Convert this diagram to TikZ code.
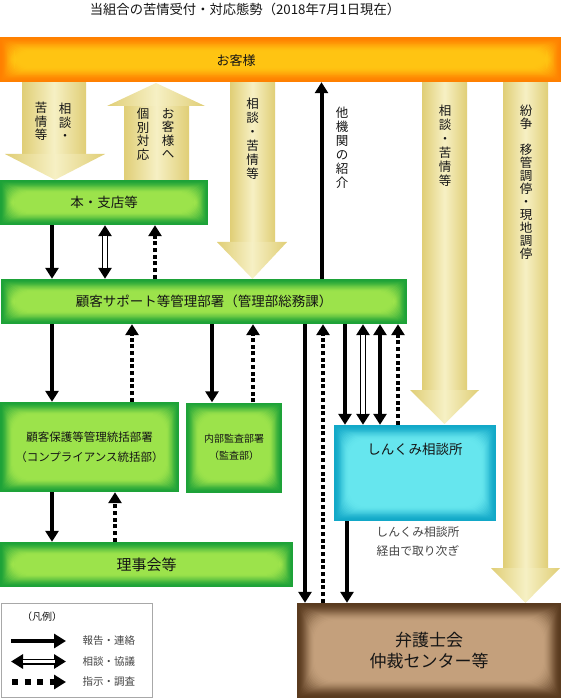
\documentclass[tikz,border=0pt]{standalone}
\usepackage{fontspec}
\setmainfont{Noto Sans CJK JP}
\usetikzlibrary{arrows.meta}
\definecolor{gout}{HTML}{1DA238}
\definecolor{gin}{HTML}{9CE34B}
\definecolor{oout}{HTML}{FF8000}
\definecolor{oin}{HTML}{FFC412}
\definecolor{cout}{HTML}{12A8C8}
\definecolor{cin}{HTML}{66E6EE}
\definecolor{bout}{HTML}{5A3B1F}
\definecolor{bin}{HTML}{C4A07C}
\definecolor{kout}{HTML}{E0CE76}
\definecolor{kin}{HTML}{F6F0C4}
\definecolor{txt}{HTML}{151515}
\definecolor{legtxt}{HTML}{444444}
\definecolor{legline}{HTML}{A8A8A8}
\pgfdeclarehorizontalshading{khaki}{100bp}{color(0bp)=(kout); color(25bp)=(kout); color(50bp)=(kin); color(75bp)=(kout); color(100bp)=(kout)}
\tikzset{
  glow/.style n args={4}{path picture={
    \foreach \i in {0,...,#3}{
      \pgfmathsetmacro\tt{\i/#3}
      \pgfmathtruncatemacro\pc{100*(3*\tt*\tt-2*\tt*\tt*\tt)}
      \pgfmathsetmacro\rr{\i*1.1}
      \fill[#2!\pc!#1, rounded corners=\rr pt]
        ([shift={({\i*#4},{-\i*#4})}]path picture bounding box.north west) rectangle
        ([shift={({-\i*#4},{\i*#4})}]path picture bounding box.south east);
    }}},
  boxbase/.style={rectangle, inner sep=0pt, text=txt, align=center},
  greenbox/.style={boxbase, glow={gout}{gin}{16}{0.8pt}},
  tipA/.tip={Triangle[width=13pt,length=11pt]},
  rep/.style={line width=4pt, -tipA},
  repboth/.style={line width=4pt, tipA-tipA},
  ins/.style={line width=4pt, dash pattern=on 4pt off 2.7pt, -tipA},
  vt/.style={inner sep=0pt, align=center, text=txt, font=\fontsize{12.5}{13.5}\selectfont, anchor=north},
  legarrow/.tip={Triangle[width=14pt,length=12pt]},
}
\newcommand\DblArrow[3]{%
  \draw[line width=6pt, tipA-tipA] (#1) -- (#2);
  \draw[white, line width=#3, shorten <=10.5pt, shorten >=10.5pt] (#1) -- (#2);}
\begin{document}
\begin{tikzpicture}[x=1pt,y=-1pt]
\useasboundingbox (0,0) rectangle (561,700);
\fill[white] (0,0) rectangle (561,700);

% title
\node[text=txt, font=\fontsize{13.3}{15}\selectfont] (title) at (245,9) {当組合の苦情受付・対応態勢（2018年7月1日現在）};

% boxes
\node[boxbase, glow={oout}{oin}{16}{0.9pt}, minimum width=561pt, minimum height=45pt,
      label={[text=txt, font=\fontsize{13}{15}\selectfont, xshift=-44.5pt, yshift=-1.5pt]center:お客様}] (cust) at (280.5,59.5) {};
\node[greenbox, minimum width=208pt, minimum height=45pt, font=\fontsize{13.5}{16}\selectfont] (sup) at (104,202.5) {本・支店等};
\node[greenbox, minimum width=406pt, minimum height=45pt, font=\fontsize{13.5}{16}\selectfont] (hq) at (204,301.5) {顧客サポート等管理部署（管理部総務課）};
\node[greenbox, minimum width=179pt, minimum height=90pt, font=\fontsize{11.5}{20}\selectfont] (comp) at (89.5,447) {顧客保護等管理統括部署\\（コンプライアンス統括部）};
\node[greenbox, minimum width=96pt, minimum height=90pt, font=\fontsize{10}{17}\selectfont] (audit) at (234,447.5) {内部監査部署\\（監査部）};
\node[greenbox, minimum width=293pt, minimum height=45pt, font=\fontsize{15}{17}\selectfont] (board) at (146.5,564.5) {理事会等};
\node[boxbase, glow={cout}{cin}{16}{0.9pt}, minimum width=162pt, minimum height=96pt,
      label={[text=txt, font=\fontsize{13.5}{16}\selectfont, anchor=center, yshift=-25pt]north:しんくみ相談所}] (shin) at (415,473) {};
\node[boxbase, glow={bout}{bin}{18}{1pt}, minimum width=264pt, minimum height=95pt, font=\fontsize{17}{21}\selectfont] (bar) at (429,650.5) {弁護士会\\仲裁センター等};

\node[text=legtxt, align=center, font=\fontsize{11.8}{19}\selectfont] (cap) at (418,541.5) {しんくみ相談所\\経由で取り次ぎ};

% big khaki arrows
\shade[shading=khaki] (22,0 |- cust.south) rectangle (86,156);
\shade[shading=khaki] (5,154) -- (105,154) -- (55,0 |- sup.north) -- cycle;
\shade[shading=khaki] (124,0 |- sup.north) rectangle (189,105);
\shade[shading=khaki] (107,106) -- (205,106) -- (156,83) -- cycle;
\shade[shading=khaki] (230,0 |- cust.south) rectangle (275,243);
\shade[shading=khaki] (217,242) -- (287,242) -- (252.5,0 |- hq.north) -- cycle;
\shade[shading=khaki] (422,0 |- cust.south) rectangle (467,391);
\shade[shading=khaki] (410,390) -- (479,390) -- (444.5,424) -- cycle;
\shade[shading=khaki] (503,0 |- cust.south) rectangle (548,569);
\shade[shading=khaki] (491,568) -- (560,568) -- (525.5,0 |- bar.north) -- cycle;

% vertical texts
\node[vt] (t1a) at (65,103) {相\\談\\・};
\node[vt] (t1b) at (41,102) {苦\\情\\等};
\node[vt] (t2a) at (168,108) {お\\客\\様\\へ};
\node[vt] (t2b) at (143,108) {個\\別\\対\\応};
\node[vt, font=\fontsize{12.5}{14}\selectfont] (t3) at (252.5,98) {相\\談\\・\\苦\\情\\等};
\node[vt, font=\fontsize{12.5}{14}\selectfont] (t4) at (342,107) {他\\機\\関\\の\\紹\\介};
\node[vt, font=\fontsize{12.5}{14}\selectfont] (t5) at (445,105) {相\\談\\・\\苦\\情\\等};
\node[vt, font=\fontsize{12.5}{13}\selectfont] (t6) at (526,105) {紛\\争\\\mbox{}\\移\\管\\調\\停\\・\\現\\地\\調\\停};

% small arrows
\draw[rep] (52,0 |- sup.south) -- (52,0 |- hq.north);
\DblArrow{105,0 |- sup.south}{105,0 |- hq.north}{3.2pt}
\draw[ins] (155,0 |- hq.north) -- (155,0 |- sup.south);
\draw[rep] (321.5,0 |- hq.north) -- (321.5,0 |- cust.south);

\draw[rep] (52,0 |- hq.south) -- (52,0 |- comp.north);
\draw[ins] (132,0 |- comp.north) -- (132,0 |- hq.south);
\draw[rep] (212,0 |- hq.south) -- (212,0 |- audit.north);
\draw[ins] (253,0 |- audit.north) -- (253,0 |- hq.south);

\draw[rep] (305,0 |- hq.south) -- (305,0 |- bar.north);
\draw[ins] (323,0 |- bar.north) -- (323,0 |- hq.south);
\draw[rep] (345,0 |- hq.south) -- (345,0 |- shin.north);
\DblArrow{363,0 |- hq.south}{363,0 |- shin.north}{3.2pt}
\draw[repboth] (380,0 |- hq.south) -- (380,0 |- shin.north);
\draw[ins] (398,0 |- shin.north) -- (398,0 |- hq.south);
\draw[rep] (347,0 |- shin.south) -- (347,0 |- bar.north);

\draw[rep] (52,0 |- comp.south) -- (52,0 |- board.north);
\draw[ins] (115,0 |- board.north) -- (115,0 |- comp.south);

% legend
\node[draw=legline, line width=1pt, fill=white, minimum width=151pt, minimum height=94pt, inner sep=0pt] (leg) at (76.5,650) {};
\node[text=txt, font=\fontsize{10}{11}\selectfont] (legt) at (42,617) {（凡例）};
\coordinate (l1a) at (11,641);  \coordinate (l1b) at (66,641);
\coordinate (l2a) at (11,661.5);  \coordinate (l2b) at (66,661.5);
\coordinate (l3a) at (12,682);  \coordinate (l3b) at (66,682);
\draw[line width=4.5pt, -legarrow] (l1a) -- (l1b);
\draw[line width=6pt, legarrow-legarrow] (l2a) -- (l2b);
\draw[white, line width=3pt, shorten <=11.5pt, shorten >=11.5pt] (l2a) -- (l2b);
\draw[line width=5.5pt, dash pattern=on 6pt off 6.5pt, -legarrow] (l3a) -- (l3b);
\node[text=legtxt, anchor=west, font=\fontsize{10.5}{12}\selectfont] (lab1) at (79,641) {報告・連絡};
\node[text=legtxt, anchor=west, font=\fontsize{10.5}{12}\selectfont] (lab2) at (79,661.5) {相談・協議};
\node[text=legtxt, anchor=west, font=\fontsize{10.5}{12}\selectfont] (lab3) at (79,682) {指示・調査};
\end{tikzpicture}
\end{document}
